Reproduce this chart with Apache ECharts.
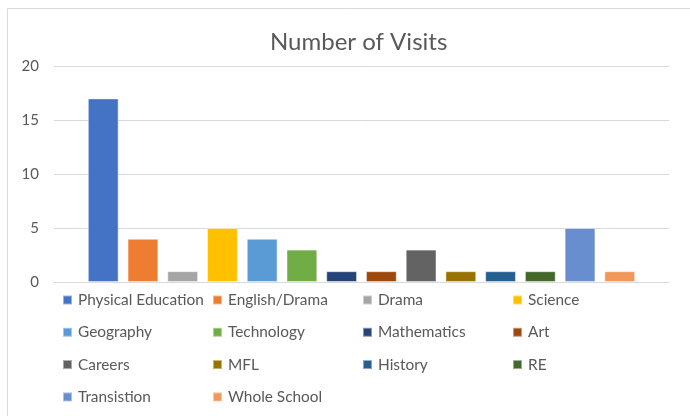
<!DOCTYPE html>
<html><head><meta charset="utf-8">
<script src="https://cdn.jsdelivr.net/npm/echarts@6/dist/echarts.min.js"></script>
<style>html,body{margin:0;padding:0;background:#fff}#c{width:690px;height:416px}</style>
</head><body><div id="c"></div>
<script>
const subjects = ["Physical Education","English/Drama","Drama","Science","Geography","Technology","Mathematics","Art","Careers","MFL","History","RE","Transistion","Whole School"];
const visits = [17,4,1,5,4,3,1,1,3,1,1,1,5,1];
const colors = ["#4472C4","#ED7D31","#A5A5A5","#FFC000","#5B9BD5","#70AD47","#264478","#9E480E","#636363","#997300","#255E91","#43682B","#698ED0","#F1975A"];
const yTicks = [0,5,10,15,20];

const font = "Lato, 'Open Sans', sans-serif";
const chart = echarts.init(document.getElementById('c'));
const cols = [0,1,2,3].map(c => subjects.filter((s,i)=> i % 4 === c));
const colX = [62, 212, 362, 512];
chart.setOption({
  animation:false,
  title:{text:"Number of Visits", left:265, top:25, textStyle:{fontFamily:font, fontSize:24, fontWeight:'normal', color:'#595959'}},
  graphic:[{type:'rect', shape:{x:7.5,y:8.5,width:700,height:420}, style:{fill:'none', stroke:'#d9d9d9', lineWidth:1}, silent:true}],
  grid:{left:54, right:21, top:66, bottom:134},
  xAxis:{type:'category', data:[''], axisLine:{lineStyle:{color:'#d9d9d9'}}, axisTick:{show:false}, axisLabel:{show:false}},
  yAxis:{type:'value', min:yTicks[0], max:yTicks[yTicks.length-1], interval:5,
    axisLine:{show:false}, axisTick:{show:false},
    axisLabel:{color:'#595959', fontFamily:font, fontSize:15, margin:15},
    splitLine:{lineStyle:{color:'#d9d9d9'}}},
  legend: cols.map((names,c)=>({
    orient:'vertical', left:colX[c], top:292, data:names, icon:'rect', itemWidth:9, itemHeight:9,
    itemGap:16.3, padding:0,
    textStyle:{fontFamily:font, fontSize:15.4, color:'#595959', lineHeight:16, padding:[0,0,0,1]}
  })),
  series: subjects.map((s,i)=>({
    name:s, type:'bar', data:[visits[i]], itemStyle:{color:colors[i], borderColor:'rgba(255,255,255,0.45)', borderWidth:1},
    barGap:'29%', barCategoryGap:'11%'
  }))
});
</script></body></html>
